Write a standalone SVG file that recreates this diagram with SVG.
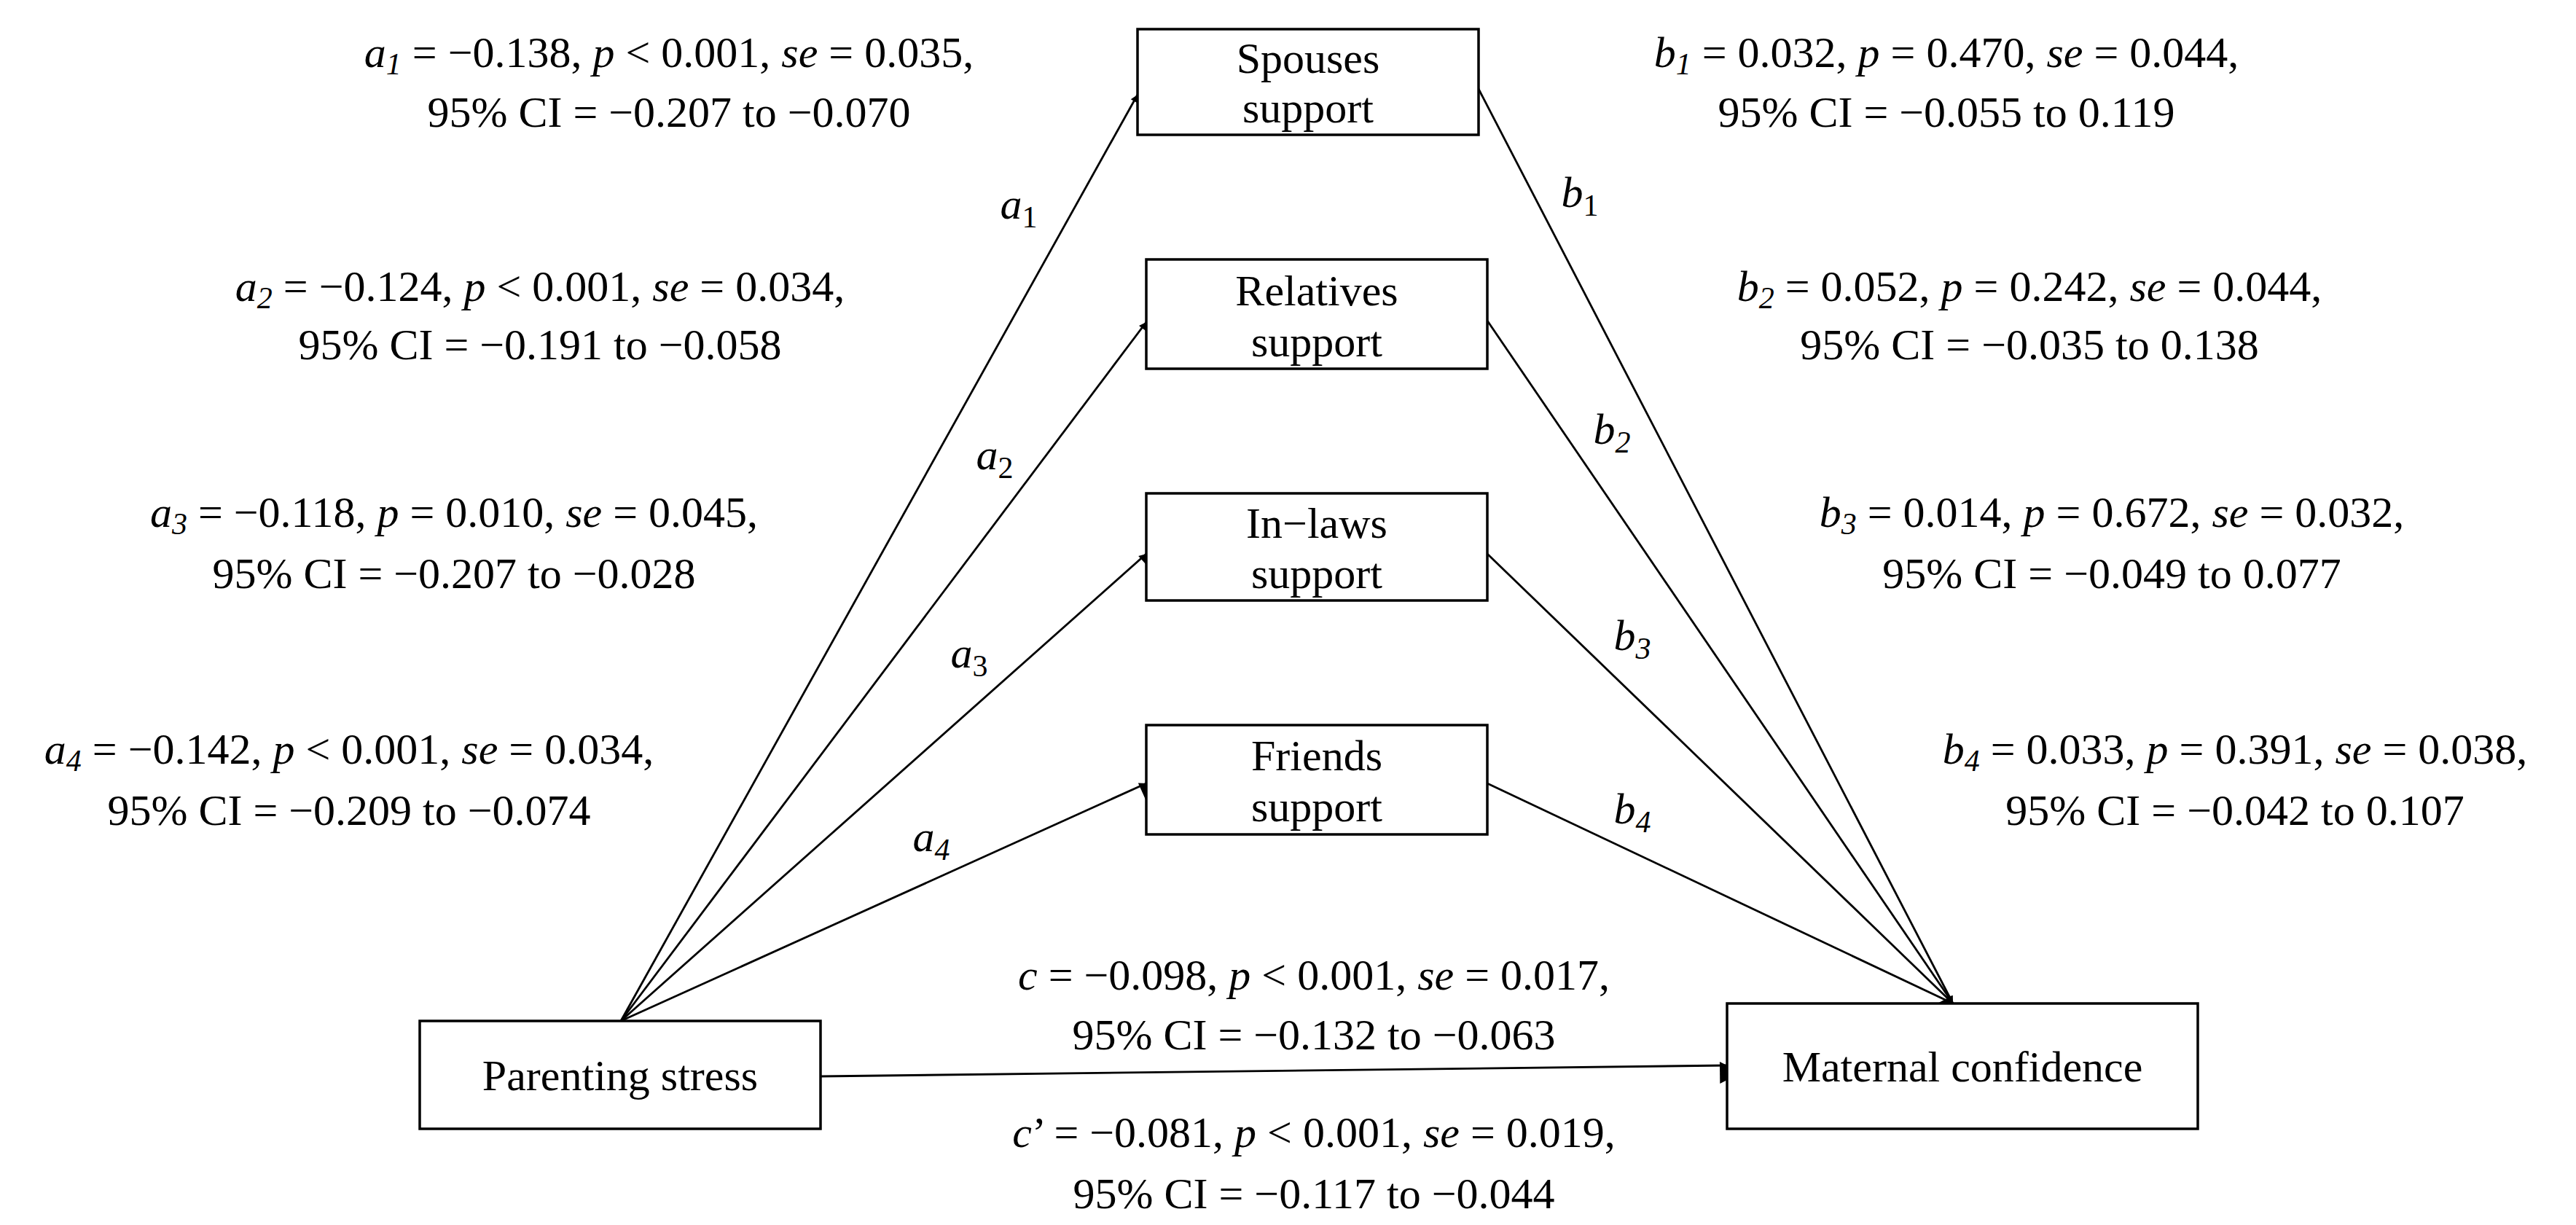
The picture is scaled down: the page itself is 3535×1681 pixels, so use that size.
<svg xmlns="http://www.w3.org/2000/svg" width="3535" height="1681" viewBox="0 0 3535 1681">
<style>
text{font-family:"Liberation Serif","Times New Roman",serif;font-size:60px;fill:#000;text-anchor:middle}
.i{font-style:italic}
.s{font-size:42px}
rect{fill:#fff;stroke:#000;stroke-width:3.5}
line{stroke:#000;stroke-width:2.8}
</style>
<defs>
<marker id="ah" viewBox="0 0 10 10" refX="10" refY="5" markerWidth="10" markerHeight="10" markerUnits="userSpaceOnUse" orient="auto" style="overflow:visible"><path d="M0,0 L10,5 L0,10 z" fill="#000" transform="scale(3)"/></marker>
</defs>
<rect width="3535" height="1681" style="fill:#fff;stroke:none"/>
<g id="connectors">
<line x1="852" y1="1401" x2="1561" y2="130" marker-end="url(#ah)"/>
<line x1="852" y1="1401" x2="1573" y2="442" marker-end="url(#ah)"/>
<line x1="852" y1="1401" x2="1573" y2="760" marker-end="url(#ah)"/>
<line x1="852" y1="1401" x2="1573" y2="1075" marker-end="url(#ah)"/>
<line x1="2029" y1="122" x2="2680" y2="1377" marker-end="url(#ah)"/>
<line x1="2041" y1="440" x2="2680" y2="1377" marker-end="url(#ah)"/>
<line x1="2041" y1="760" x2="2680" y2="1377" marker-end="url(#ah)"/>
<line x1="2041" y1="1075" x2="2680" y2="1377" marker-end="url(#ah)"/>
<line x1="1126" y1="1477" x2="2370" y2="1462" marker-end="url(#ah)"/>
<text x="1398" y="300" class="i">a<tspan class="s" dy="12" font-style="normal">1</tspan></text>
<text x="1365" y="644" class="i">a<tspan class="s" dy="12" font-style="normal">2</tspan></text>
<text x="1330" y="916" class="i">a<tspan class="s" dy="12" font-style="normal">3</tspan></text>
<text x="1278" y="1168" class="i">a<tspan class="s" dy="12">4</tspan></text>
<text x="2168" y="284" class="i">b<tspan class="s" dy="12" font-style="normal">1</tspan></text>
<text x="2212" y="609" class="i">b<tspan class="s" dy="12">2</tspan></text>
<text x="2240" y="892" class="i">b<tspan class="s" dy="12">3</tspan></text>
<text x="2240" y="1130" class="i">b<tspan class="s" dy="12">4</tspan></text>
</g>
<g id="parenting-stress"><rect x="576" y="1401" width="550" height="148"/><text x="851" y="1496">Parenting stress</text></g>
<g id="maternal-confidence"><rect x="2370" y="1377" width="646" height="172"/><text x="2693" y="1484">Maternal confidence</text></g>
<g id="spouses"><rect x="1561" y="40" width="468" height="145"/><text x="1795" y="100">Spouses</text><text x="1795" y="168">support</text></g>
<g id="relatives"><rect x="1573" y="356" width="468" height="150"/><text x="1807" y="419">Relatives</text><text x="1807" y="489">support</text></g>
<g id="inlaws"><rect x="1573" y="677" width="468" height="147"/><text x="1807" y="738">In−laws</text><text x="1807" y="807">support</text></g>
<g id="friends"><rect x="1573" y="995" width="468" height="150"/><text x="1807" y="1057">Friends</text><text x="1807" y="1127">support</text></g>
<g id="labels">
<text x="918" y="92"><tspan class="i">a</tspan><tspan class="s i" dy="10">1</tspan><tspan dy="-10"> = −0.138, </tspan><tspan class="i">p</tspan> &lt; 0.001, <tspan class="i">se</tspan> = 0.035,</text>
<text x="918" y="174">95% CI = −0.207 to −0.070</text>
<text x="741" y="413"><tspan class="i">a</tspan><tspan class="s i" dy="10">2</tspan><tspan dy="-10"> = −0.124, </tspan><tspan class="i">p</tspan> &lt; 0.001, <tspan class="i">se</tspan> = 0.034,</text>
<text x="741" y="493">95% CI = −0.191 to −0.058</text>
<text x="623" y="723"><tspan class="i">a</tspan><tspan class="s i" dy="10">3</tspan><tspan dy="-10"> = −0.118, </tspan><tspan class="i">p</tspan> = 0.010, <tspan class="i">se</tspan> = 0.045,</text>
<text x="623" y="807">95% CI = −0.207 to −0.028</text>
<text x="479" y="1048"><tspan class="i">a</tspan><tspan class="s i" dy="10">4</tspan><tspan dy="-10"> = −0.142, </tspan><tspan class="i">p</tspan> &lt; 0.001, <tspan class="i">se</tspan> = 0.034,</text>
<text x="479" y="1132">95% CI = −0.209 to −0.074</text>
<text x="2671" y="92"><tspan class="i">b</tspan><tspan class="s i" dy="10">1</tspan><tspan dy="-10"> = 0.032, </tspan><tspan class="i">p</tspan> = 0.470, <tspan class="i">se</tspan> = 0.044,</text>
<text x="2671" y="174">95% CI = −0.055 to 0.119</text>
<text x="2785" y="413"><tspan class="i">b</tspan><tspan class="s i" dy="10">2</tspan><tspan dy="-10"> = 0.052, </tspan><tspan class="i">p</tspan> = 0.242, <tspan class="i">se</tspan> = 0.044,</text>
<text x="2785" y="493">95% CI = −0.035 to 0.138</text>
<text x="2898" y="723"><tspan class="i">b</tspan><tspan class="s i" dy="10">3</tspan><tspan dy="-10"> = 0.014, </tspan><tspan class="i">p</tspan> = 0.672, <tspan class="i">se</tspan> = 0.032,</text>
<text x="2898" y="807">95% CI = −0.049 to 0.077</text>
<text x="3067" y="1048"><tspan class="i">b</tspan><tspan class="s i" dy="10">4</tspan><tspan dy="-10"> = 0.033, </tspan><tspan class="i">p</tspan> = 0.391, <tspan class="i">se</tspan> = 0.038,</text>
<text x="3067" y="1132">95% CI = −0.042 to 0.107</text>
<text x="1803" y="1358"><tspan class="i">c</tspan> = −0.098, <tspan class="i">p</tspan> &lt; 0.001, <tspan class="i">se</tspan> = 0.017,</text>
<text x="1803" y="1440">95% CI = −0.132 to −0.063</text>
<text x="1803" y="1574"><tspan class="i">c</tspan>’ = −0.081, <tspan class="i">p</tspan> &lt; 0.001, <tspan class="i">se</tspan> = 0.019,</text>
<text x="1803" y="1658">95% CI = −0.117 to −0.044</text>
</g>
</svg>
